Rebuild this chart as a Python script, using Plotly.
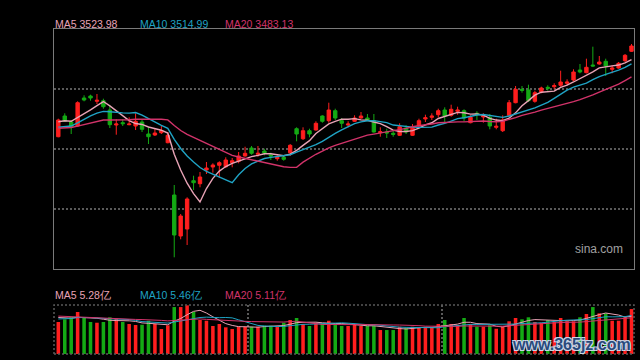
import plotly.graph_objects as go
import pandas as pd

# ---------------- data ----------------
prev_closes = [3340, 3342.5, 3345, 3342.5, 3345, 3343.75, 3343, 3357.5, 3365, 3368.25,
               3347.5, 3343.5, 3337.5, 3333.25, 3339.5, 3356.75, 3361.75, 3367.75, 3382.5]

opens = [3330.75, 3382.5, 3367.5, 3357.5, 3427.5, 3432.5, 3419.25, 3420.75, 3397.5, 3360,
         3365.75, 3360.75, 3357.5, 3367.5, 3337.5, 3335, 3340.75, 3315.75, 3185, 3082.5,
         3100, 3220.75, 3213.25, 3247.5, 3255, 3259.25, 3255.75, 3265.75, 3269.25, 3282.5,
         3302.5, 3286.75, 3295, 3285, 3275.75, 3279.25, 3290.75, 3350.75, 3325.75, 3345.75,
         3347.5, 3382.5, 3370.75, 3395.75, 3370.75, 3360, 3369.25, 3377.5, 3377.5, 3370.75,
         3340.75, 3342.5, 3339.25, 3334.25, 3352.5, 3334.25, 3357.5, 3375, 3379.25, 3385.75,
         3397.5, 3384.25, 3394.25, 3395.75, 3365.75, 3389.25, 3380, 3379.25, 3354.25, 3345.75,
         3384.25, 3415.75, 3449.25, 3447.5, 3419.25, 3442.5, 3454.25, 3455.75, 3459.25, 3464.25,
         3472.5, 3497.5, 3490.75, 3510, 3512.5, 3519.25, 3499.25, 3502.5, 3520.75, 3544.25]

highs = [3375.75, 3389.25, 3372.5, 3419.25, 3434.25, 3435.75, 3437.5, 3425.75, 3409.25, 3374.25,
         3374.25, 3379.25, 3389.25, 3372.5, 3354.25, 3352.5, 3357.5, 3342.5, 3210, 3137.5,
         3179.25, 3233.25, 3242.5, 3267.5, 3264.25, 3269.25, 3279.25, 3277.5, 3292.5, 3305.75,
         3307.5, 3307.5, 3300.75, 3290.75, 3284.25, 3284.25, 3312.5, 3354.25, 3354.25, 3350.75,
         3369.25, 3384.25, 3415.75, 3400.75, 3377.5, 3369.25, 3384.25, 3392.5, 3387.5, 3387.5,
         3354.25, 3350.75, 3345.75, 3364.25, 3359.25, 3362.5, 3375.75, 3385.75, 3389.25, 3400.75,
         3404.25, 3410.75, 3405.75, 3399.25, 3384.25, 3394.25, 3389.25, 3387.5, 3375.75, 3384.25,
         3422.5, 3457.5, 3457.5, 3460.75, 3445.75, 3455.75, 3459.25, 3464.25, 3495.75, 3474.25,
         3499.25, 3512.5, 3525.75, 3555.75, 3532.5, 3525.75, 3509.25, 3517.5, 3537.5, 3562.5]

lows = [3329.25, 3367.5, 3337.5, 3355.75, 3419.25, 3420.75, 3412.5, 3400.75, 3352.5, 3335.75,
        3357.5, 3359.25, 3347.5, 3342.5, 3312.5, 3332.5, 3337.5, 3314.25, 3029.25, 3074.25,
        3060, 3197.5, 3204.25, 3237.5, 3240.75, 3227.5, 3252.5, 3254.25, 3264.25, 3280.75,
        3285.75, 3280.75, 3284.25, 3272.5, 3270.75, 3270.75, 3282.5, 3319.25, 3322.5, 3329.25,
        3345.75, 3365.75, 3365.75, 3372.5, 3352.5, 3354.25, 3367.5, 3375.75, 3369.25, 3340.75,
        3330.75, 3327.5, 3330.75, 3332.5, 3337.5, 3332.5, 3354.25, 3367.5, 3372.5, 3379.25,
        3365.75, 3380.75, 3385.75, 3369.25, 3364.25, 3372.5, 3365.75, 3349.25, 3349.25, 3342.5,
        3380.75, 3414.25, 3440.75, 3417.5, 3415.75, 3439.25, 3445.75, 3449.25, 3455.75, 3459.25,
        3469.25, 3489.25, 3489.25, 3505.75, 3510.75, 3482.5, 3489.25, 3500.75, 3517.5, 3542.5]

closes = [3372.5, 3369.25, 3354.25, 3415.75, 3422.5, 3427.5, 3421.75, 3405.75, 3360.75, 3362.5,
          3363.25, 3362.5, 3369.25, 3349.25, 3330.75, 3340, 3345.75, 3334.25, 3085, 3132.5,
          3175, 3215.75, 3230, 3252.5, 3260, 3265.75, 3272.5, 3270.75, 3282.5, 3289.25,
          3289.25, 3289.25, 3290, 3282.5, 3279.25, 3274.25, 3309.25, 3337.5, 3345.75, 3337.5,
          3364.25, 3369.25, 3397.5, 3377.5, 3364.25, 3362.5, 3377.5, 3382.5, 3372.5, 3342.5,
          3343.25, 3340, 3336.75, 3355.75, 3342.5, 3354.25, 3370.75, 3378.25, 3382.5, 3395.75,
          3382.5, 3399.25, 3397.5, 3377.5, 3379.25, 3385.75, 3382.5, 3357.5, 3356.75, 3372.5,
          3415.75, 3449.25, 3446.75, 3420.75, 3440.75, 3452.5, 3451.75, 3458.25, 3467.5, 3467.5,
          3492.5, 3492.5, 3504.25, 3507.5, 3517.5, 3507.5, 3502.5, 3514.25, 3534.25, 3557.5]

prev_volumes = [5.8, 5.5, 6.0, 5.6, 5.7, 5.9, 5.4, 5.8, 5.6, 5.7,
                4.6, 4.8, 4.5, 4.9, 4.7, 5.0, 5.4, 5.3, 5.33]

volumes = [4.47, 4.85, 5.13, 5.87, 5.13, 4.47, 4.37, 4.47, 5.13, 4.93,
           4.47, 4.19, 4.05, 4.09, 4.65, 4.19, 3.49, 4.01, 6.56, 6.56,
           6.80, 5.87, 4.75, 4.65, 3.91, 4.19, 3.73, 3.49, 3.81, 3.81,
           3.81, 3.81, 3.95, 3.95, 3.81, 4.37, 4.75, 5.03, 4.19, 3.91,
           4.37, 4.29, 4.65, 4.09, 3.91, 3.91, 4.09, 3.91, 3.91, 3.91,
           3.35, 3.35, 3.35, 3.81, 3.63, 3.81, 3.73, 3.73, 3.73, 4.19,
           4.75, 4.19, 4.01, 5.03, 4.19, 3.81, 3.81, 4.01, 3.53, 3.81,
           4.57, 5.03, 4.85, 5.13, 4.47, 4.37, 4.75, 4.47, 5.03, 4.57,
           4.57, 5.13, 5.59, 6.56, 5.68, 5.68, 4.65, 4.65, 5.13, 6.28]

month_breaks = [29.5, 59.5]
price_labels = ["MA5 3523.98", "MA10 3514.99", "MA20 3483.13"]
volume_labels = ["MA5 5.28亿", "MA10 5.46亿", "MA20 5.11亿"]
ma_periods = [5, 10, 20]

assert len(opens) == len(highs) == len(lows) == len(closes) == len(volumes) == 90

# ---------------- styles ----------------
RED = "#ff1e1e"
GREEN = "#14aa14"
MA_COLORS = ["#e8a3b6", "#1fa3c4", "#d2336a"]
GRID = "#5a5a5a"
FONT = "Arial, Liberation Sans, sans-serif"

n = len(closes)
idx = list(range(n))
np_hist = len(prev_closes)
all_c = pd.Series(prev_closes + closes)
all_v = pd.Series(prev_volumes + volumes)

fig = go.Figure()

fig.add_trace(go.Candlestick(
    x=idx, open=opens, high=highs, low=lows, close=closes,
    increasing=dict(line=dict(color=RED, width=1), fillcolor=RED),
    decreasing=dict(line=dict(color=GREEN, width=1), fillcolor=GREEN),
    whiskerwidth=0, xaxis="x", yaxis="y", hoverinfo="skip"))

for p, col in zip(ma_periods, MA_COLORS):
    ma = all_c.rolling(p).mean().iloc[np_hist:].tolist()
    fig.add_trace(go.Scatter(x=idx, y=ma, mode="lines",
                             line=dict(color=col, width=1.4),
                             xaxis="x", yaxis="y", hoverinfo="skip"))

vol_colors = [RED if c >= o else GREEN for o, c in zip(opens, closes)]
fig.add_trace(go.Bar(x=idx, y=volumes, marker=dict(color=vol_colors, line=dict(width=0)),
                     width=0.55, xaxis="x2", yaxis="y2", hoverinfo="skip"))

for p, col in zip(ma_periods, MA_COLORS):
    vma = all_v.rolling(p).mean().iloc[np_hist:].tolist()
    fig.add_trace(go.Scatter(x=idx, y=vma, mode="lines",
                             line=dict(color=col, width=1),
                             xaxis="x2", yaxis="y2", hoverinfo="skip"))

xr = [-0.67, 89.39]
fig.update_layout(
    width=640, height=360,
    margin=dict(l=54, r=6, t=29, b=6),
    paper_bgcolor="#000000", plot_bgcolor="#000000",
    showlegend=False, hovermode=False, boxgap=0.25,
    xaxis=dict(domain=[0, 1], range=xr, anchor="y", showgrid=False, zeroline=False,
               showticklabels=False, ticks="", rangeslider=dict(visible=False),
               showline=True, mirror=True, linecolor="#7a7a7a", linewidth=1),
    yaxis=dict(domain=[0.2615, 1], range=[3000, 3600], anchor="x",
               tickvals=[3150, 3300, 3450], showticklabels=False, ticks="",
               showgrid=True, gridcolor=GRID, griddash="2px,2px", gridwidth=1.5,
               zeroline=False, showline=True, mirror=True, linecolor="#7a7a7a", linewidth=1),
    xaxis2=dict(domain=[0, 1], range=xr, anchor="y2", showticklabels=False, ticks="",
                tickvals=month_breaks, showgrid=True, gridcolor=GRID, griddash="2px,2px",
                gridwidth=1.5, zeroline=False),
    yaxis2=dict(domain=[0, 0.1508], range=[0, 6.85], anchor="x2", showgrid=False,
                showticklabels=False, ticks="", zeroline=False),
    font=dict(family=FONT),
)

fig.add_shape(type="rect", xref="x2 domain", yref="y2 domain", x0=0, x1=1, y0=0, y1=1,
              line=dict(color=GRID, width=1.5, dash="2px,2px"), layer="above")

label_x = [0.0017, 0.148, 0.295]
for txt, col, lx in zip(price_labels, MA_COLORS, label_x):
    fig.add_annotation(text=txt, xref="paper", yref="paper", x=lx, y=1.0154, xshift=-2,
                       xanchor="left", yanchor="middle", showarrow=False,
                       font=dict(size=10.5, color=col, family=FONT))
for txt, col, lx in zip(volume_labels, MA_COLORS, label_x):
    fig.add_annotation(text=txt, xref="paper", yref="paper", x=lx, y=0.1815, xshift=-2,
                       xanchor="left", yanchor="middle", showarrow=False,
                       font=dict(size=10.5, color=col, family=FONT))

fig.add_annotation(text="sina.com", xref="paper", yref="paper", x=0.9816, y=0.323, xshift=2,
                   xanchor="right", yanchor="middle", showarrow=False,
                   font=dict(size=12, color="#a0a0a0", family=FONT))

fig.add_annotation(text="www.365jz.com", xref="paper", yref="paper", x=0.9988, y=0.0286,
                   xanchor="right", yanchor="middle", showarrow=False,
                   font=dict(size=16, color="#2a4a7c", family=FONT, weight="bold",
                             shadow="1px 1px 0 #c9d6e6, -1px -1px 0 #c9d6e6, 1px -1px 0 #c9d6e6, -1px 1px 0 #c9d6e6"))

fig.write_html("out.html", config={"displayModeBar": False},
               post_script="document.body.style.margin='0';document.body.style.background='#000';")
